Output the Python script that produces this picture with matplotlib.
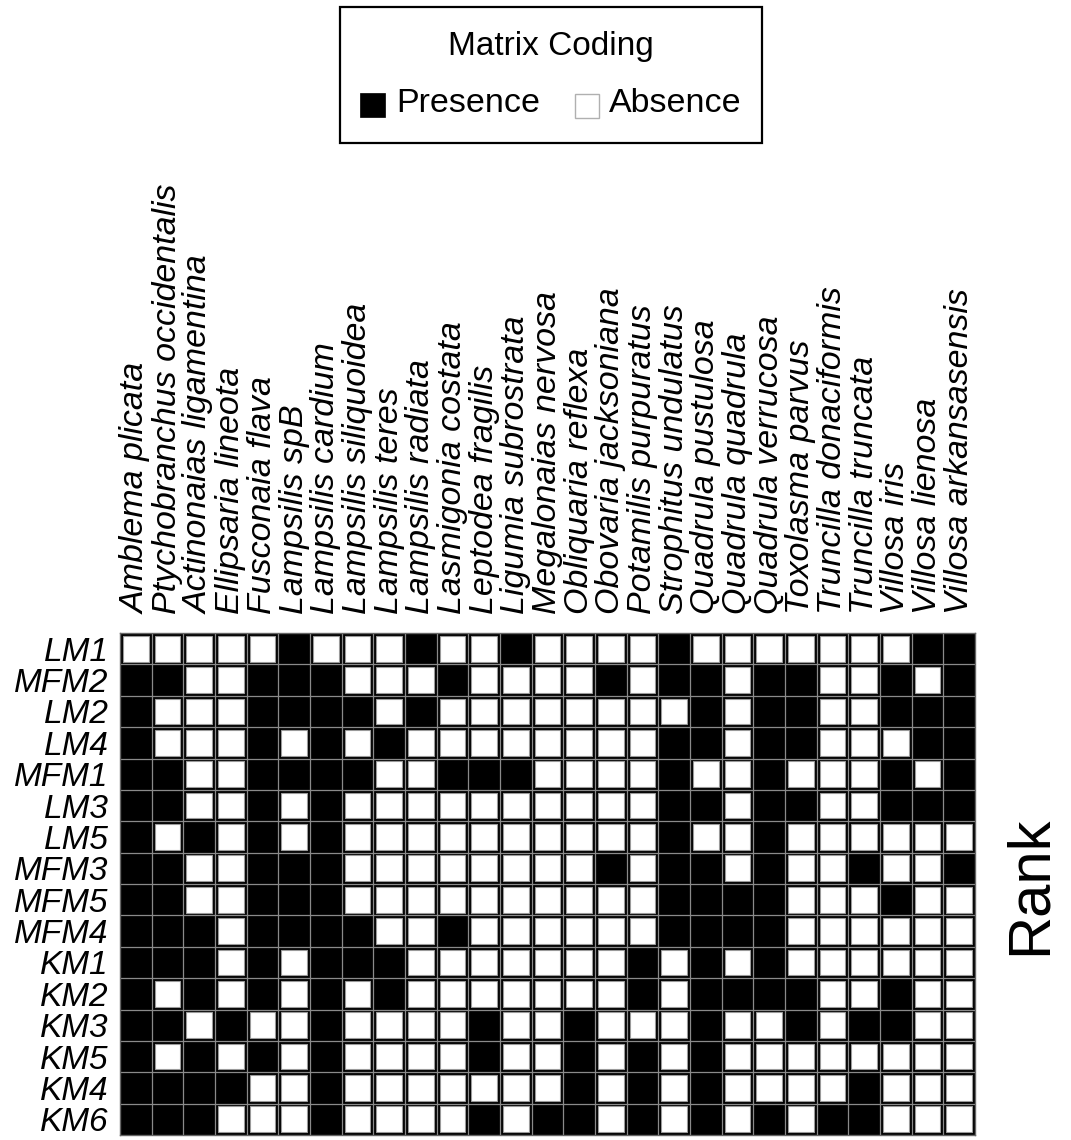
import matplotlib
matplotlib.use("Agg")
import matplotlib.pyplot as plt
from matplotlib.patches import Rectangle
import numpy as np

plt.rcParams['font.family'] = ['Liberation Sans', 'DejaVu Sans']

species = ["Amblema plicata", "Ptychobranchus occidentalis", "Actinonaias ligamentina",
           "Ellipsaria lineota", "Fusconaia flava", "Lampsilis spB", "Lampsilis cardium",
           "Lampsilis siliquoidea", "Lampsilis teres", "Lampsilis radiata",
           "Lasmigonia costata", "Leptodea fragilis", "Ligumia subrostrata",
           "Megalonaias nervosa", "Obliquaria reflexa", "Obovaria jacksoniana",
           "Potamilis purpuratus", "Strophitus undulatus", "Quadrula pustulosa",
           "Quadrula quadrula", "Quadrula verrucosa", "Toxolasma parvus",
           "Truncilla donaciformis", "Truncilla truncata", "Villosa iris",
           "Villosa lienosa", "Villosa arkansasensis"]

sites = ["LM1", "MFM2", "LM2", "LM4", "MFM1", "LM3", "LM5", "MFM3",
         "MFM5", "MFM4", "KM1", "KM2", "KM3", "KM5", "KM4", "KM6"]

# 1 = presence, 0 = absence, one string per site in species order
presence = [
    "000001000" "100100001" "000000011",
    "110011100" "010000101" "101100101",
    "100011110" "100000000" "101100111",
    "100010101" "000000001" "101100011",
    "110011110" "011100001" "001000101",
    "110010100" "000000001" "101100111",
    "101010100" "000000001" "001000000",
    "110011100" "000000101" "101001001",
    "110011100" "000000001" "111000100",
    "111011110" "010000001" "111000000",
    "111010111" "000000010" "101000000",
    "101010101" "000000010" "111100100",
    "110100100" "001001000" "100101100",
    "101010100" "001001010" "100000000",
    "111100100" "000001010" "100001000",
    "111000100" "001011010" "101011000",
]

mat = np.array([[int(c) for c in row] for row in presence])
nrow, ncol = mat.shape

fig = plt.figure(figsize=(10.71, 11.40), dpi=100)
ax = fig.add_axes([120 / 1071, 1 - 1135 / 1140, 855 / 1071, 502 / 1140])
ax.set_xlim(0, ncol)
ax.set_ylim(nrow, 0)
ax.set_facecolor("black")

# grid lines between cells
for x in range(1, ncol):
    ax.axvline(x, color="#8a8a8a", lw=0.9, zorder=1)
for y in range(1, nrow):
    ax.axhline(y, color="#8a8a8a", lw=0.9, zorder=1)

# absent cells drawn as inset white squares
pad = 0.09
for i in range(nrow):
    for j in range(ncol):
        if mat[i, j] == 0:
            ax.add_patch(Rectangle((j + pad, i + pad), 1 - 2 * pad, 1 - 2 * pad,
                                   facecolor="white", edgecolor="#9a9a9a",
                                   lw=0.8, zorder=2))

for s in ax.spines.values():
    s.set_color("#666666")
    s.set_linewidth(1.0)

ax.set_xticks(np.arange(ncol) + 0.5)
ax.set_xticklabels(species, rotation=90, fontsize=24.5, style="italic",
                   ha="center", va="bottom")
ax.xaxis.tick_top()
ax.set_yticks(np.arange(nrow) + 0.5)
ax.set_yticklabels(sites, fontsize=24, style="italic")
ax.tick_params(length=0, pad=8)
ax.tick_params(axis="x", pad=14)

fig.text(1030 / 1071, 1 - 885 / 1140, "Rank", rotation=90, fontsize=43,
         ha="center", va="center")

# legend box
fig.patches.append(Rectangle((340 / 1071, 1 - 143 / 1140), 422 / 1071, 136 / 1140,
                             transform=fig.transFigure, facecolor="white",
                             edgecolor="black", lw=1.6))
fig.text(551 / 1071, 1 - 46 / 1140, "Matrix Coding", fontsize=24,
         ha="center", va="center")
fig.patches.append(Rectangle((360 / 1071, 1 - 117 / 1140), 25 / 1071, 24 / 1140,
                             transform=fig.transFigure, facecolor="black",
                             edgecolor="black", lw=0.5))
fig.text(396 / 1071, 1 - 104 / 1140, "Presence", fontsize=24.5,
         ha="left", va="center")
fig.patches.append(Rectangle((575 / 1071, 1 - 118 / 1140), 24 / 1071, 24 / 1140,
                             transform=fig.transFigure, facecolor="white",
                             edgecolor="#b0b0b0", lw=1.0))
fig.text(609 / 1071, 1 - 104 / 1140, "Absence", fontsize=24.5,
         ha="left", va="center")

fig.savefig("out.png", dpi=100)
